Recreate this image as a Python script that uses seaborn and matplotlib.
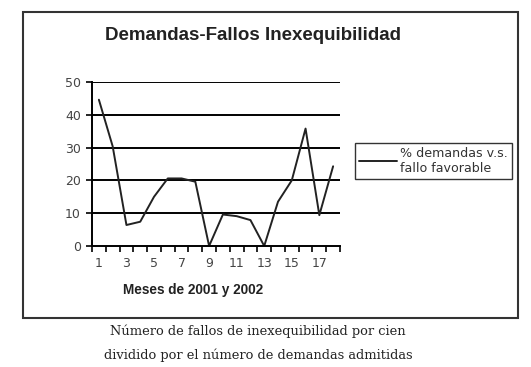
import numpy as np
import pandas as pd
import matplotlib
matplotlib.use("Agg")
import matplotlib.pyplot as plt
import seaborn as sns

# data
meses = list(range(1, 19))
porcentaje = [44.6, 30.4, 6.4, 7.4, 15.0, 20.6, 20.6, 19.6, 0.0,
              9.6, 9.1, 7.9, 0.0, 13.5, 20.0, 35.8, 9.4, 24.3]
xtick_labels = ["1", "3", "5", "7", "9", "11", "13", "15", "17"]
yticks = [0, 10, 20, 30, 40, 50]

df = pd.DataFrame({"mes": meses, "pct": porcentaje})

sns.set_style("white")
plt.rcParams["font.family"] = ["DejaVu Sans"]

fig = plt.figure(figsize=(5.31, 3.67), dpi=100)
ax = fig.add_axes([92 / 531, 1 - 246 / 367, 248 / 531, 164 / 367])

sns.lineplot(data=df, x="mes", y="pct", ax=ax, color="#222222", linewidth=1.4,
             label="% demandas v.s.\nfallo favorable")

ax.set_xlim(0.5, 18.5)
ax.set_ylim(0, 50)
ax.set_yticks(yticks)
ax.set_yticklabels([str(v) for v in yticks], fontsize=9, color="#444444")
ax.set_xticks([int(t) for t in xtick_labels])
ax.set_xticklabels(xtick_labels, fontsize=9, color="#444444")
ax.set_xticks(np.arange(0.5, 19, 1), minor=True)
ax.tick_params(axis="x", which="major", length=0, pad=8)
ax.tick_params(axis="x", which="minor", length=4, width=1.2, color="black", direction="out")
ax.tick_params(axis="y", length=4, width=1.2, color="black", direction="out", pad=4)
ax.tick_params(bottom=True, left=True, which="both")
for v in yticks[1:]:
    ax.axhline(v, color="black", lw=1.4, zorder=0)
for s in ["top", "right"]:
    ax.spines[s].set_visible(False)
for s in ["left", "bottom"]:
    ax.spines[s].set_color("black")
    ax.spines[s].set_linewidth(1.4)
ax.set_xlabel("")
ax.set_ylabel("")

leg = ax.legend(loc="upper left", bbox_to_anchor=(355 / 531, 1 - 143 / 367),
                bbox_transform=fig.transFigure, frameon=True, fancybox=False,
                fontsize=9.1, handlelength=3.0, handletextpad=0.3,
                borderpad=0.3, borderaxespad=0)
leg.get_frame().set_edgecolor("black")
leg.get_frame().set_linewidth(1.0)
for t in leg.get_texts():
    t.set_color("#333333")

fig.text(253 / 531, 1 - 35 / 367, "Demandas-Fallos Inexequibilidad",
         ha="center", va="center", fontsize=13.5, fontweight="bold",
         family="Liberation Sans", color="#222222")
fig.text(193 / 531, 1 - 290 / 367, "Meses de 2001 y 2002", ha="center",
         va="center", fontsize=9.8, fontweight="bold", family="Liberation Sans",
         color="#222222")

# outer frame of the chart
frame = plt.Rectangle((23 / 531, 1 - 318 / 367), 495 / 531, 306 / 367,
                      transform=fig.transFigure, fill=False, edgecolor="#333333",
                      lw=1.5)
fig.patches.append(frame)

fig.text(258 / 531, 1 - 331 / 367, "Número de fallos de inexequibilidad por cien",
         ha="center", va="center", fontsize=9.4, family="DejaVu Serif",
         color="#222222")
fig.text(258 / 531, 1 - 355 / 367, "dividido por el número de demandas admitidas",
         ha="center", va="center", fontsize=9.4, family="DejaVu Serif",
         color="#222222")

fig.savefig("out.png", dpi=100)
